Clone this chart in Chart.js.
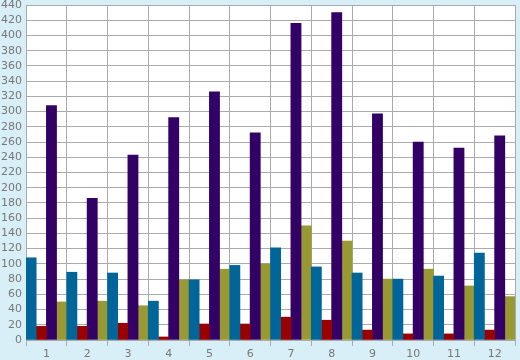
<!DOCTYPE html>
<html>
<head>
<meta charset="utf-8">
<script src="https://cdn.jsdelivr.net/npm/chart.js@4"></script>
<style>
  body { margin: 0; background: #d9eff7; }
  #wrap { width: 520px; height: 360px; }
</style>
</head>
<body>
<div id="wrap"><canvas id="myChart"></canvas></div>
<script>
const categories = ['1', '2', '3', '4', '5', '6', '7', '8', '9', '10', '11', '12'];
const serieAzul = [108, 89, 88, 51, 79, 98, 121, 96, 88, 80, 84, 114];
const serieRoja = [18, 18, 22, 4, 21, 21, 30, 26, 13, 8, 8, 13];
const serieMorada = [308, 186, 243, 292, 326, 272, 416, 430, 297, 260, 252, 268];
const serieOliva = [50, 51, 45, 79, 93, 100, 150, 130, 80, 93, 71, 57];

const gris = '#aaaaaa';

// fondo blanco solo en el area del grafico
const fondoArea = {
  id: 'fondoArea',
  beforeDraw(chart) {
    const {ctx, chartArea: a} = chart;
    ctx.save();
    ctx.fillStyle = '#ffffff';
    ctx.fillRect(a.left, a.top, a.right - a.left, a.bottom - a.top);
    ctx.restore();
  },
};

const ctx = document.getElementById('myChart');
const myChart = new Chart(ctx, {
  type: 'bar',
  data: {
    labels: categories,
    datasets: [
      {data: serieAzul, backgroundColor: '#006699'},
      {data: serieRoja, backgroundColor: '#990000'},
      {data: serieMorada, backgroundColor: '#330066'},
      {data: serieOliva, backgroundColor: '#999933'},
    ],
  },
  options: {
    responsive: true,
    maintainAspectRatio: false,
    animation: false,
    layout: {padding: {left: 0, right: 5, top: 0, bottom: 0}},
    datasets: {bar: {barPercentage: 1, categoryPercentage: 1}},
    plugins: {legend: {display: false}, tooltip: {enabled: false}},
    scales: {
      x: {
        grid: {color: gris, offset: true, tickLength: 6, drawTicks: true},
        border: {color: gris},
        ticks: {color: '#777777', font: {family: 'DejaVu Sans', size: 11, lineHeight: 1}, padding: 3, maxRotation: 0},
        afterFit(scale) { scale.height = 20; },
      },
      y: {
        min: 0,
        max: 440,
        grid: {color: gris, drawTicks: false},
        border: {color: gris},
        ticks: {stepSize: 20, color: '#777777', font: {family: 'DejaVu Sans', size: 11, lineHeight: 1}, padding: 4},
        afterFit(scale) { scale.width = 26; scale.paddingTop = 5; },
      },
    },
  },
  plugins: [fondoArea],
});
</script>
</body>
</html>
